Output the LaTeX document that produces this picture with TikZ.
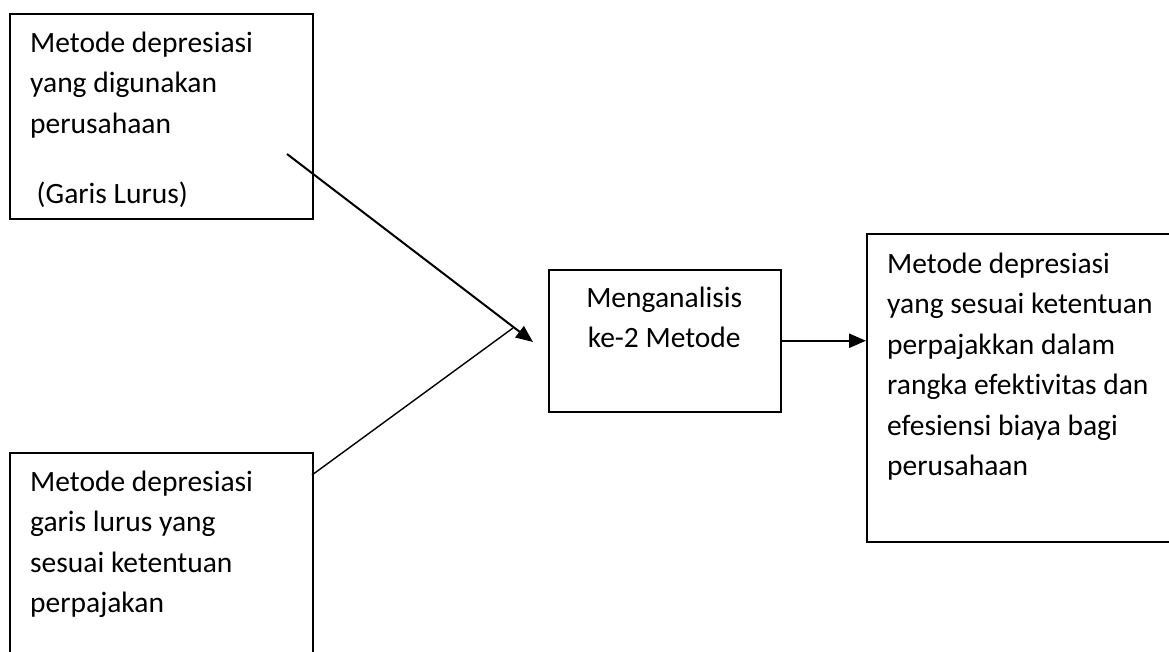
\documentclass[tikz,border=0pt]{standalone}
\usepackage{fontspec}
\setmainfont{Carlito}[Ligatures={NoCommon,NoContextual}]
\usetikzlibrary{arrows.meta}
\tikzset{
  boxnode/.style={draw=black, line width=1.5pt, inner sep=0pt, anchor=north west, fill=none},
  txt/.style={anchor=base west, inner sep=0pt, font=\fontsize{29.5pt}{40.5pt}\selectfont},
  arr/.style={line width=2pt, -{Triangle[length=17pt,width=14pt]}},
  plainline/.style={line width=1.4pt}
}
\begin{document}
\begin{tikzpicture}[x=1pt,y=-1pt]
\useasboundingbox (0,0) rectangle (1169,651);
\clip (0,0) rectangle (1169,651);
\fill[white] (0,0) rectangle (1169,651);
% boxes
\node[boxnode, minimum width=303pt, minimum height=205pt] (b1) at (9,13) {};
\node[boxnode, minimum width=303pt, minimum height=260pt] (b2) at (9,452) {};
\node[boxnode, minimum width=232pt, minimum height=142pt] (mid) at (548,269) {};
\node[boxnode, minimum width=310pt, minimum height=308pt] (b3) at (866,233) {};
% texts
\node[txt] (t1) at (30,52) {\parbox[t]{280pt}{Metode depresiasi\\yang digunakan\\perusahaan\\[29.5pt]\hspace*{6.5pt}(Garis Lurus)}};
\node[txt] (t2) at (30,491) {\parbox[t]{280pt}{Metode depresiasi\\garis lurus yang\\sesuai ketentuan\\perpajakan}};
\node[txt] (tm) at (548,307) {\parbox[t]{232pt}{\centering Menganalisis\\ke-2 Metode}};
\node[txt] (t3) at (887,273) {\parbox[t]{290pt}{Metode depresiasi\\yang sesuai ketentuan\\perpajakkan dalam\\rangka efektivitas dan\\efesiensi biaya bagi\\perusahaan}};
% connectors
\coordinate (s1) at (287,154);
\coordinate (e1) at (533,342);
\coordinate (s2) at (312,475);
\coordinate (e2) at (513,328);
\draw[arr] (s1) -- (e1);
\draw[plainline] (s2) -- (e2);
\draw[arr, line width=2.4pt] (mid.east) -- (mid.east -| b3.west);
\end{tikzpicture}
\end{document}
